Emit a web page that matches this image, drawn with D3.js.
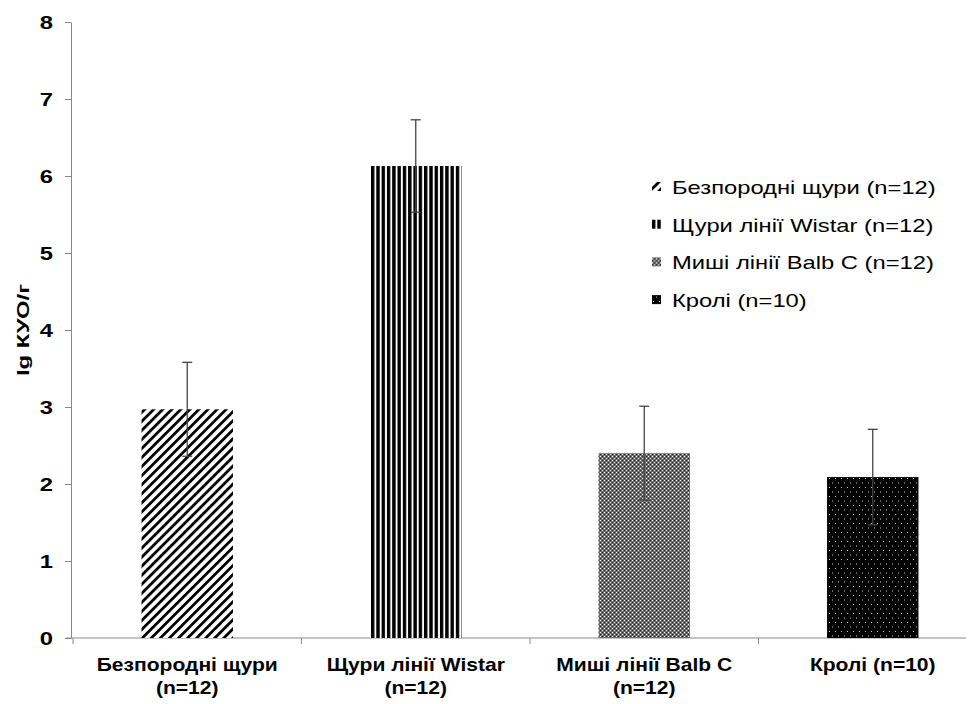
<!DOCTYPE html>
<html lang="uk">
  <head>
    <meta charset="UTF-8" />
    <title>lg КУО/г</title>
    <script src="https://d3js.org/d3.v7.min.js"></script>
    <style>
      body { margin: 0; background: #fff; }
      text { font-family: 'Liberation Sans', Arial, sans-serif; }
    </style>
  </head>
  <body>
    <div id="chart"></div>
    <script>
      const categories = ['Безпородні щури (n=12)', 'Щури лінії Wistar (n=12)', 'Миші лінії Balb C (n=12)', 'Кролі (n=10)']
      const axisLabels = [['Безпородні щури', '(n=12)'], ['Щури лінії Wistar', '(n=12)'], ['Миші лінії Balb C', '(n=12)'], ['Кролі (n=10)']]
      const means = [2.97, 6.13, 2.40, 2.09]
      const errors = [0.61, 0.60, 0.61, 0.62]
      const patterns = ['p-diag', 'p-vert', 'p-gray', 'p-dots']
      const yTicks = [0, 1, 2, 3, 4, 5, 6, 7, 8]

      const width = 980
      const height = 704

      const svg = d3.select('#chart').append('svg')
        .attr('width', width)
        .attr('height', height)

      // fill patterns
      const defs = svg.append('defs')
      const diag = defs.append('pattern').attr('id', 'p-diag')
        .attr('patternUnits', 'userSpaceOnUse').attr('width', 6.4).attr('height', 6.4)
        .attr('patternTransform', 'rotate(45)')
      diag.append('rect').attr('width', 6.4).attr('height', 6.4).attr('fill', '#fff')
      diag.append('rect').attr('width', 2.8).attr('height', 6.4).attr('fill', '#000')

      const vert = defs.append('pattern').attr('id', 'p-vert')
        .attr('patternUnits', 'userSpaceOnUse').attr('width', 5.3).attr('height', 4)
      vert.append('rect').attr('width', 5.3).attr('height', 4).attr('fill', '#fff')
      vert.append('rect').attr('width', 3.4).attr('height', 4).attr('fill', '#000')

      const gray = defs.append('pattern').attr('id', 'p-gray')
        .attr('patternUnits', 'userSpaceOnUse').attr('width', 4).attr('height', 4)
      gray.append('rect').attr('width', 4).attr('height', 4).attr('fill', '#6e6e6e')
      gray.append('rect').attr('x', 0).attr('y', 0).attr('width', 1).attr('height', 1).attr('fill', '#fff')
      gray.append('rect').attr('x', 2).attr('y', 2).attr('width', 1).attr('height', 1).attr('fill', '#ddd')
      gray.append('rect').attr('x', 2).attr('y', 0).attr('width', 1).attr('height', 1).attr('fill', '#222')
      gray.append('rect').attr('x', 0).attr('y', 2).attr('width', 1).attr('height', 1).attr('fill', '#222')

      const dots = defs.append('pattern').attr('id', 'p-dots')
        .attr('patternUnits', 'userSpaceOnUse').attr('width', 6).attr('height', 9)
      dots.append('rect').attr('width', 6).attr('height', 9).attr('fill', '#000')
      dots.append('rect').attr('x', 1).attr('y', 1).attr('width', 1).attr('height', 1).attr('fill', '#ccc')
      dots.append('rect').attr('x', 4).attr('y', 5.5).attr('width', 1).attr('height', 1).attr('fill', '#ccc')

      const x = d3.scaleBand()
        .domain(categories)
        .range([73, 987])
        .paddingInner(0.6)
        .paddingOuter(0.3)

      const y = d3.scaleLinear()
        .domain([0, 8])
        .range([638, 22])

      // y axis
      const yAxis = svg.append('g')
        .attr('transform', 'translate(71,0)')
        .call(d3.axisLeft(y).tickValues(yTicks).tickSize(6).tickSizeOuter(0))
      yAxis.selectAll('path, line').attr('stroke', '#898989')
      yAxis.selectAll('text')
        .attr('x', 0)
        .attr('transform', 'translate(-18,0) scale(1.25,1)')
        .attr('font-size', 19).attr('font-weight', 'bold').attr('fill', '#000')

      // x axis
      const xAxis = svg.append('g').attr('transform', 'translate(0,638)')
      xAxis.append('line')
        .attr('x1', 66).attr('x2', 966)
        .attr('stroke', '#898989')
      const step = x.step()
      xAxis.selectAll('.xt')
        .data(categories)
        .enter().append('line')
        .attr('class', 'xt')
        .attr('x1', d => x(d) + x.bandwidth() / 2 - step / 2)
        .attr('x2', d => x(d) + x.bandwidth() / 2 - step / 2)
        .attr('y1', 0).attr('y2', 6)
        .attr('stroke', '#898989')

      xAxis.selectAll('.xl')
        .data(categories)
        .enter().append('text')
        .attr('class', 'xl')
        .attr('text-anchor', 'middle')
        .attr('font-size', 18).attr('font-weight', 'bold')
        .attr('transform', d => `translate(${x(d) + x.bandwidth() / 2},0) scale(1.17,1)`)
        .each(function (d, i) {
          d3.select(this).selectAll('tspan')
            .data(axisLabels[i])
            .enter().append('tspan')
            .attr('x', 0)
            .attr('y', (t, j) => 33 + j * 23)
            .text(t => t)
        })

      // y axis title
      svg.append('text')
        .attr('transform', `translate(29,${y(4)}) rotate(-90) scale(1.4,1)`)
        .attr('text-anchor', 'middle')
        .attr('font-size', 17).attr('font-weight', 'bold')
        .text('lg КУО/г')

      // bars
      svg.selectAll('.bar')
        .data(categories)
        .enter().append('rect')
        .attr('class', 'bar')
        .attr('x', d => x(d))
        .attr('width', x.bandwidth())
        .attr('y', (d, i) => y(means[i]))
        .attr('height', (d, i) => y(0) - y(means[i]))
        .attr('fill', (d, i) => `url(#${patterns[i]})`)

      // error bars
      const err = svg.selectAll('.err')
        .data(categories)
        .enter().append('g')
        .attr('class', 'err')
        .attr('stroke', '#444')
        .attr('stroke-width', 1.3)
      err.append('line')
        .attr('x1', d => x(d) + x.bandwidth() / 2)
        .attr('x2', d => x(d) + x.bandwidth() / 2)
        .attr('y1', (d, i) => y(means[i] + errors[i]))
        .attr('y2', (d, i) => y(means[i] - errors[i]))
      err.append('line')
        .attr('x1', d => x(d) + x.bandwidth() / 2 - 5)
        .attr('x2', d => x(d) + x.bandwidth() / 2 + 5)
        .attr('y1', (d, i) => y(means[i] + errors[i]))
        .attr('y2', (d, i) => y(means[i] + errors[i]))
      err.append('line')
        .attr('x1', d => x(d) + x.bandwidth() / 2 - 5)
        .attr('x2', d => x(d) + x.bandwidth() / 2 + 5)
        .attr('y1', (d, i) => y(means[i] - errors[i]))
        .attr('y2', (d, i) => y(means[i] - errors[i]))

      // legend
      const legend = svg.append('g').attr('transform', 'translate(652,187)')
      const item = legend.selectAll('.li')
        .data(categories)
        .enter().append('g')
        .attr('class', 'li')
        .attr('transform', (d, i) => `translate(0,${i * 37.7})`)
      item.append('rect')
        .attr('x', 0).attr('y', -5).attr('width', 9).attr('height', 9)
        .attr('fill', (d, i) => `url(#${patterns[i]})`)
      item.append('text')
        .attr('transform', 'translate(20,0) scale(1.25,1)')
        .attr('dy', '0.36em')
        .attr('font-size', 19)
        .text(d => d)
    </script>
  </body>
</html>
